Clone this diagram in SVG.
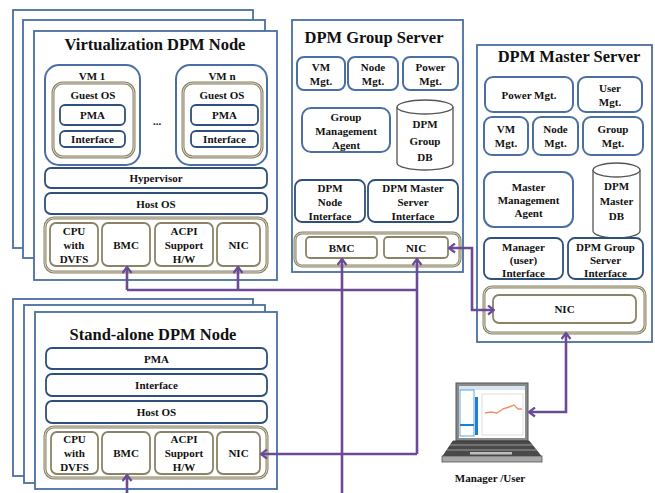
<svg xmlns="http://www.w3.org/2000/svg" width="655" height="493" viewBox="0 0 655 493">
  <style>
    .frame { fill: #fff; stroke: #4a6fa3; stroke-width: 1.8; }
    .vm { fill: #fff; stroke: #4b6fa5; stroke-width: 2; }
    .box { fill: #fff; stroke: #2f4f7d; stroke-width: 1.8; }
    .ol { fill: #fff; stroke: #8a8466; stroke-width: 3; }
    .ol-in { fill: none; stroke: #e4e0d2; stroke-width: 0.9; }
    .hw { fill: #fff; stroke: #8a8466; stroke-width: 1.8; }
    .db { fill: #fff; stroke: #555; stroke-width: 1.3; }
    .title { font-weight: bold; font-size: 16.5px; fill: #111; text-anchor: middle; }
    .t { font-weight: bold; font-size: 11px; fill: #111; text-anchor: middle; dominant-baseline: central; }
    .link { fill: none; stroke: #6c4b96; stroke-width: 2.6; }
    .arr { marker-end: url(#head); }
    .both { marker-start: url(#head); marker-end: url(#head); }
  </style>
  <defs>
    <marker id="head" viewBox="0 0 8 11" refX="7" refY="5.5" markerWidth="8" markerHeight="11" markerUnits="userSpaceOnUse" orient="auto-start-reverse">
      <path d="M1,1 L7,5.5 L1,10" fill="none" stroke="#6c4b96" stroke-width="2.2"/>
    </marker>
  </defs>

  <rect width="655" height="493" fill="#fff"/>

  <g font-family="Liberation Serif, Times New Roman, serif">
  <!-- Virtualization DPM node (stacked) -->
  <g id="virt-node">
    <rect class="frame" x="13" y="10" width="240" height="238"/>
    <rect class="frame" x="23" y="20" width="242" height="238"/>
    <rect class="frame" x="34" y="31" width="243" height="249"/>
    <text class="title" x="155" y="50">Virtualization DPM Node</text>

    <g id="vm1">
      <rect class="vm" x="45" y="65" width="95" height="100" rx="14"/>
      <text class="t" x="92" y="76">VM 1</text>
      <rect class="ol" x="53" y="83" width="81" height="74" rx="10"/>
      <rect class="ol-in" x="53" y="83" width="81" height="74" rx="10"/>
      <text class="t" x="93" y="95">Guest OS</text>
      <rect class="box" x="60" y="105" width="65" height="20" rx="5"/>
      <text class="t" x="92.5" y="115">PMA</text>
      <rect class="box" x="60" y="131" width="65" height="16" rx="5"/>
      <text class="t" x="92.5" y="139">Interface</text>
    </g>
    <text class="t" x="157" y="121">...</text>
    <g id="vmn">
      <rect class="vm" x="176" y="65" width="91" height="100" rx="14"/>
      <text class="t" x="222" y="76">VM n</text>
      <rect class="ol" x="183" y="83" width="79" height="74" rx="10"/>
      <rect class="ol-in" x="183" y="83" width="79" height="74" rx="10"/>
      <text class="t" x="222" y="95">Guest OS</text>
      <rect class="box" x="191" y="105" width="67" height="20" rx="5"/>
      <text class="t" x="224.5" y="115">PMA</text>
      <rect class="box" x="191" y="131" width="67" height="16" rx="5"/>
      <text class="t" x="224.5" y="139">Interface</text>
    </g>
    <g id="virt-hypervisor">
      <rect class="box" x="45" y="168" width="222" height="20" rx="6"/>
      <text class="t" x="156" y="178">Hypervisor</text>
    </g>
    <g id="virt-hostos">
      <rect class="box" x="45" y="193" width="222" height="21" rx="6"/>
      <text class="t" x="156" y="203.5">Host OS</text>
    </g>
    <g id="virt-hw">
      <rect class="ol" x="45" y="218" width="222" height="54" rx="9"/>
      <rect class="ol-in" x="45" y="218" width="222" height="54" rx="9"/>
      <rect class="hw" x="50" y="223" width="48" height="43" rx="6"/>
      <text class="t" x="74" y="231">CPU</text>
      <text class="t" x="74" y="245">with</text>
      <text class="t" x="74" y="259">DVFS</text>
      <rect class="hw" x="102" y="223" width="48" height="43" rx="6"/>
      <text class="t" x="126" y="245">BMC</text>
      <rect class="hw" x="155" y="223" width="58" height="43" rx="6"/>
      <text class="t" x="184" y="231">ACPI</text>
      <text class="t" x="184" y="245">Support</text>
      <text class="t" x="184" y="259">H/W</text>
      <rect class="hw" x="217" y="223" width="43" height="43" rx="6"/>
      <text class="t" x="238.5" y="245">NIC</text>
    </g>
  </g>

  <!-- DPM group server -->
  <g id="group-server">
    <rect class="frame" x="292" y="20" width="171" height="252"/>
    <text class="title" x="374" y="43">DPM Group Server</text>
    <rect class="vm" x="297" y="57" width="48" height="33" rx="7"/>
    <text class="t" x="321" y="67">VM</text>
    <text class="t" x="321" y="81">Mgt.</text>
    <rect class="vm" x="348" y="57" width="50" height="33" rx="7"/>
    <text class="t" x="373" y="67">Node</text>
    <text class="t" x="373" y="81">Mgt.</text>
    <rect class="vm" x="403" y="57" width="55" height="33" rx="7"/>
    <text class="t" x="430.5" y="67">Power</text>
    <text class="t" x="430.5" y="81">Mgt.</text>
    <rect class="vm" x="302" y="108" width="88" height="44" rx="9"/>
    <text class="t" x="346" y="117">Group</text>
    <text class="t" x="346" y="131">Management</text>
    <text class="t" x="346" y="145">Agent</text>
    <g id="group-db">
      <path class="db" d="M397,107 a28,7 0 0 1 56,0 V163 a28,7 0 0 1 -56,0 Z"/>
      <path class="db" d="M397,107 a28,7 0 0 0 56,0" fill="none"/>
      <text class="t" x="425" y="124">DPM</text>
      <text class="t" x="425" y="141">Group</text>
      <text class="t" x="425" y="157">DB</text>
    </g>
    <rect class="box" x="295" y="180" width="70" height="42" rx="7"/>
    <text class="t" x="330" y="188">DPM</text>
    <text class="t" x="330" y="202">Node</text>
    <text class="t" x="330" y="216">Interface</text>
    <rect class="box" x="368" y="180" width="90" height="42" rx="7"/>
    <text class="t" x="413" y="188">DPM Master</text>
    <text class="t" x="413" y="202">Server</text>
    <text class="t" x="413" y="216">Interface</text>
    <rect class="ol" x="295" y="233" width="165" height="33" rx="7"/>
    <rect class="ol-in" x="295" y="233" width="165" height="33" rx="7"/>
    <rect class="hw" x="306" y="237" width="71" height="21" rx="4"/>
    <text class="t" x="341.5" y="247.5">BMC</text>
    <rect class="hw" x="384" y="237" width="64" height="21" rx="4"/>
    <text class="t" x="416" y="247.5">NIC</text>
  </g>

  <!-- DPM master server -->
  <g id="master-server">
    <rect class="frame" x="477" y="45" width="175" height="297"/>
    <text class="title" x="569" y="62">DPM Master Server</text>
    <rect class="vm" x="485" y="77" width="88" height="35" rx="8"/>
    <text class="t" x="529" y="94.5">Power Mgt.</text>
    <rect class="vm" x="578" y="77" width="64" height="35" rx="8"/>
    <text class="t" x="610" y="88">User</text>
    <text class="t" x="610" y="102">Mgt.</text>
    <rect class="vm" x="484" y="117" width="44" height="38" rx="8"/>
    <text class="t" x="506" y="129">VM</text>
    <text class="t" x="506" y="143">Mgt.</text>
    <rect class="vm" x="533" y="117" width="45" height="38" rx="8"/>
    <text class="t" x="555.5" y="129">Node</text>
    <text class="t" x="555.5" y="143">Mgt.</text>
    <rect class="vm" x="583" y="117" width="60" height="38" rx="8"/>
    <text class="t" x="613" y="129">Group</text>
    <text class="t" x="613" y="143">Mgt.</text>
    <rect class="vm" x="484" y="172" width="89" height="55" rx="10"/>
    <text class="t" x="528.5" y="187">Master</text>
    <text class="t" x="528.5" y="200">Management</text>
    <text class="t" x="528.5" y="213">Agent</text>
    <g id="master-db">
      <path class="db" d="M593,170 a23.5,7 0 0 1 47,0 V231 a23.5,7 0 0 1 -47,0 Z"/>
      <path class="db" d="M593,170 a23.5,7 0 0 0 47,0" fill="none"/>
      <text class="t" x="616.5" y="186">DPM</text>
      <text class="t" x="616.5" y="201">Master</text>
      <text class="t" x="616.5" y="216">DB</text>
    </g>
    <rect class="box" x="484" y="238" width="79" height="41" rx="7"/>
    <text class="t" x="523.5" y="247">Manager</text>
    <text class="t" x="523.5" y="260">(user)</text>
    <text class="t" x="523.5" y="273">Interface</text>
    <rect class="box" x="568" y="238" width="75" height="41" rx="7"/>
    <text class="t" x="605.5" y="247">DPM Group</text>
    <text class="t" x="605.5" y="260">Server</text>
    <text class="t" x="605.5" y="273">Interface</text>
    <rect class="ol" x="484" y="287" width="161" height="46" rx="8"/>
    <rect class="ol-in" x="484" y="287" width="161" height="46" rx="8"/>
    <rect class="hw" x="493" y="295" width="143" height="28" rx="6"/>
    <text class="t" x="564.5" y="309">NIC</text>
  </g>

  <!-- Stand-alone DPM node (stacked) -->
  <g id="standalone-node">
    <rect class="frame" x="13" y="299" width="240" height="177"/>
    <rect class="frame" x="24" y="305" width="241" height="178"/>
    <rect class="frame" x="35" y="312" width="242" height="177"/>
    <text class="title" x="153" y="340">Stand-alone DPM Node</text>
    <rect class="box" x="46" y="348" width="221" height="21" rx="6"/>
    <text class="t" x="156.5" y="358.5">PMA</text>
    <rect class="box" x="46" y="374" width="221" height="22" rx="6"/>
    <text class="t" x="156.5" y="385">Interface</text>
    <rect class="box" x="46" y="401" width="221" height="22" rx="6"/>
    <text class="t" x="156.5" y="412">Host OS</text>
    <g id="standalone-hw">
      <rect class="ol" x="45" y="427" width="222" height="51" rx="9"/>
      <rect class="ol-in" x="45" y="427" width="222" height="51" rx="9"/>
      <rect class="hw" x="51" y="432" width="47" height="42" rx="6"/>
      <text class="t" x="74.5" y="439">CPU</text>
      <text class="t" x="74.5" y="453">with</text>
      <text class="t" x="74.5" y="467">DVFS</text>
      <rect class="hw" x="102" y="432" width="48" height="42" rx="6"/>
      <text class="t" x="126" y="453">BMC</text>
      <rect class="hw" x="155" y="432" width="58" height="42" rx="6"/>
      <text class="t" x="184" y="439">ACPI</text>
      <text class="t" x="184" y="453">Support</text>
      <text class="t" x="184" y="467">H/W</text>
      <rect class="hw" x="217" y="432" width="43" height="42" rx="6"/>
      <text class="t" x="238.5" y="453">NIC</text>
    </g>
  </g>

  <!-- Manager / user laptop -->
  <g id="manager-laptop">
    <rect x="456" y="383" width="72" height="58" fill="#8a8a8a" stroke="#555" stroke-width="1"/>
    <rect x="459" y="386" width="66" height="52" fill="#fff"/>
    <rect x="459" y="386" width="66" height="4" fill="#d6e3f0"/>
    <rect x="460" y="390" width="14" height="46" fill="#fff" stroke="#3a8fd6" stroke-width="0.8"/>
    <rect x="460" y="424" width="14" height="2" fill="#1e7fd0"/>
    <rect x="475" y="397" width="3" height="38" fill="#1e7fd0"/>
    <rect x="482" y="394" width="41" height="41" fill="#fff" stroke="#c8c8c8" stroke-width="0.6"/>
    <polyline points="485,413 491,412 497,413 503,409 509,407 514,405 518,409 522,409" fill="none" stroke="#f0936a" stroke-width="1.4"/>
    <polygon points="453,441 529,441 541,456 443,456" fill="#4a4a4a" stroke="#333" stroke-width="0.8"/>
    <line x1="450" y1="445" x2="533" y2="445" stroke="#9a9a9a" stroke-width="1"/>
    <line x1="447" y1="450" x2="537" y2="450" stroke="#9a9a9a" stroke-width="1"/>
    <rect x="470" y="452" width="42" height="2.5" fill="#bdbdbd"/>
    <rect x="442" y="456" width="100" height="6" fill="#a8a8a8" stroke="#555" stroke-width="0.8"/>
    <text class="t" x="490" y="478">Manager /User</text>
  </g>
  </g>

  <!-- Network connections -->
  <g id="connectors">
    <path class="link" d="M127,290 H417"/>
    <path class="link arr" d="M127,290 V267"/>
    <path class="link arr" d="M238,290 V267"/>
    <path class="link arr" d="M417,454 V259"/>
    <path class="link arr" d="M417,454 H261"/>
    <path class="link arr" d="M342,493 V259"/>
    <path class="link arr" d="M127,493 V475"/>
    <path class="link both" d="M449,248 H472 V310 H494"/>
    <path class="link both" d="M566,333 V412 H529"/>
  </g>
</svg>
